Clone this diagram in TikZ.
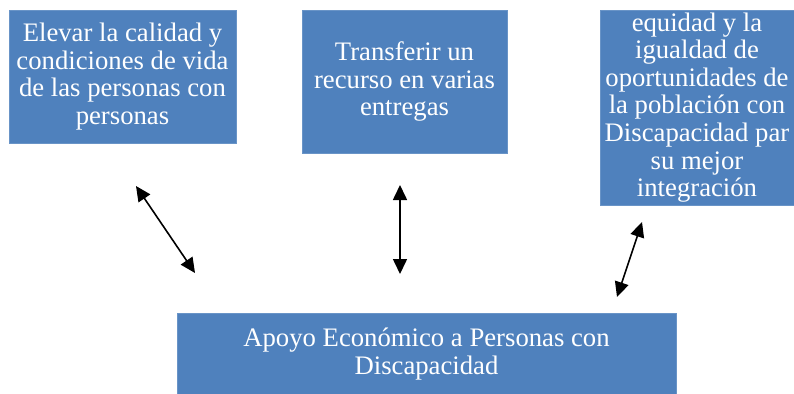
\documentclass[tikz,border=0pt]{standalone}
\usepackage{fontspec}
\setmainfont{Liberation Serif}
\usetikzlibrary{arrows.meta}
\definecolor{boxblue}{HTML}{4F81BD}
\begin{document}
\begin{tikzpicture}[x=1pt,y=-1pt,
  bluebox/.style={fill=boxblue, draw=boxblue!85!white, line width=0.6pt, text=white, align=center,
    font=\fontsize{26.7pt}{27.6pt}\selectfont, inner sep=0pt, anchor=center},
  dblarrow/.style={line width=1.6pt, {Triangle[length=15pt,width=14pt]}-{Triangle[length=15pt,width=14pt]}}]
\useasboundingbox (0,0) rectangle (794,393);
\node[bluebox, minimum width=227pt, minimum height=133pt] (a) at (122.5,76.5)
  {Elevar la calidad y\\condiciones de vida\\de las personas con\\personas};
\node[bluebox, minimum width=205pt, minimum height=143pt] (b) at (404.5,81.5)
  {Transferir un\\recurso en varias\\entregas};
\node[bluebox, minimum width=194pt, minimum height=195pt] (c) at (697,107.5)
  {equidad y la\\igualdad de\\oportunidades de\\la población con\\Discapacidad par\\su mejor\\integración};
\node[bluebox, minimum width=499pt, minimum height=82pt] (d) at (426.5,354)
  {Apoyo Económico a Personas con\\Discapacidad};
\coordinate (a1) at (136,186);
\coordinate (a2) at (195,273);
\coordinate (b1) at (400,185);
\coordinate (b2) at (400,274);
\coordinate (c1) at (642,222);
\coordinate (c2) at (617,297);
\draw[dblarrow] (a1) -- (a2);
\draw[dblarrow] (b1) -- (b2);
\draw[dblarrow] (c1) -- (c2);
\end{tikzpicture}
\end{document}
